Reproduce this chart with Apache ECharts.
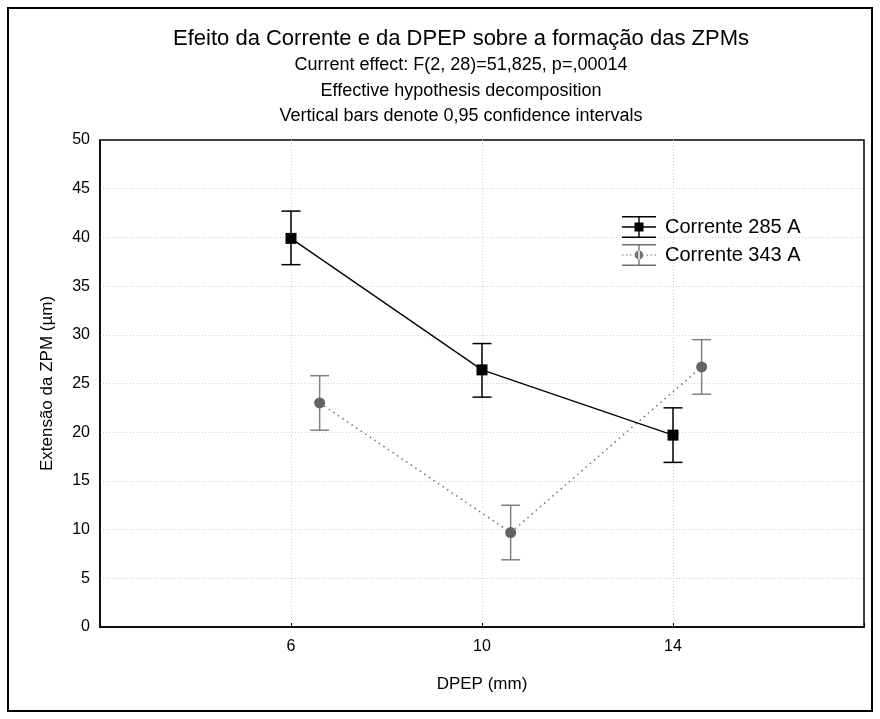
<!DOCTYPE html>
<html>
<head>
<meta charset="utf-8">
<script src="https://cdn.jsdelivr.net/npm/echarts@6/dist/echarts.min.js"></script>
<style>html,body{margin:0;padding:0;background:#fff}#c{width:880px;height:719px}</style>
</head>
<body>
<div id="c"></div>
<script>
// DPEP (mm) positions
const dpep285 = [6, 10, 14];
const dpep343 = [6.6, 10.6, 14.6];   // plotted with a small horizontal offset, as in the original
const mean285 = [39.9, 26.4, 19.7];
const low285  = [37.2, 23.6, 16.9];
const high285 = [42.7, 29.1, 22.5];
const mean343 = [23.0, 9.7, 26.7];
const low343  = [20.2, 6.9, 23.9];
const high343 = [25.8, 12.5, 29.5];
const xTickLabels = ['6', '10', '14'];
const seriesNames = ['Corrente 285 A', 'Corrente 343 A'];

const FONT = 'Liberation Sans, Arial, sans-serif';

function errData(xs, lo, hi) { return xs.map((x, i) => [x, lo[i], hi[i]]); }

function errorBar(color) {
  return function (params, api) {
    const x = api.value(0);
    const lo = api.coord([x, api.value(1)]);
    const hi = api.coord([x, api.value(2)]);
    const w = 9.5;
    const st = { stroke: color, lineWidth: 1.5 };
    return {
      type: 'group',
      children: [
        { type: 'line', shape: { x1: lo[0], y1: lo[1], x2: hi[0], y2: hi[1] }, style: st },
        { type: 'line', shape: { x1: hi[0] - w, y1: hi[1], x2: hi[0] + w, y2: hi[1] }, style: st },
        { type: 'line', shape: { x1: lo[0] - w, y1: lo[1], x2: lo[0] + w, y2: lo[1] }, style: st }
      ]
    };
  };
}

const iconBlack = 'path://M0,0H34V1.5H0Z M0,20.5H34V22H0Z M0,10.3H34V11.7H0Z M16.3,0H17.7V22H16.3Z M12.5,6.5H21.5V15.5H12.5Z';
const iconGrey = 'path://M0,0H34V1.5H0Z M0,20.5H34V22H0Z M16.3,0H17.7V22H16.3Z ' +
  'M0,10.4H1.5V11.6H0Z M4,10.4H5.5V11.6H4Z M8,10.4H9.5V11.6H8Z M24.5,10.4H26V11.6H24.5Z M28.5,10.4H30V11.6H28.5Z M32.5,10.4H34V11.6H32.5Z ' +
  'M12.6,11A4.4,4.4,0,1,0,21.4,11A4.4,4.4,0,1,0,12.6,11Z';

const chart = echarts.init(document.getElementById('c'), null, { renderer: 'canvas' });
chart.setOption({
  animation: false,
  backgroundColor: '#fff',
  textStyle: { fontFamily: FONT },
  title: [
    { text: 'Efeito da Corrente e da DPEP sobre a formação das ZPMs', left: 456, top: 23, textAlign: 'center',
      textStyle: { fontFamily: FONT, fontSize: 22, fontWeight: 'normal', color: '#000' } },
    { text: 'Current effect: F(2, 28)=51,825, p=,00014', left: 456, top: 51, textAlign: 'center',
      textStyle: { fontFamily: FONT, fontSize: 18, fontWeight: 'normal', color: '#000' } },
    { text: 'Effective hypothesis decomposition', left: 456, top: 77, textAlign: 'center',
      textStyle: { fontFamily: FONT, fontSize: 18, fontWeight: 'normal', color: '#000' } },
    { text: 'Vertical bars denote 0,95 confidence intervals', left: 456, top: 102, textAlign: 'center',
      textStyle: { fontFamily: FONT, fontSize: 18, fontWeight: 'normal', color: '#000' } }
  ],
  graphic: [
    { type: 'rect', shape: { x: 8, y: 8, width: 864, height: 703 }, style: { fill: 'none', stroke: '#000', lineWidth: 2 }, z: 100 }
  ],
  legend: {
    orient: 'vertical',
    left: 617, top: 211,
    itemWidth: 34, itemHeight: 22,
    itemGap: 6,
    textStyle: { fontFamily: FONT, fontSize: 20, color: '#000', padding: [0, 0, 0, 4] },
    data: [
      { name: seriesNames[0], icon: iconBlack, itemStyle: { color: '#000' } },
      { name: seriesNames[1], icon: iconGrey, itemStyle: { color: '#707070' } }
    ]
  },
  grid: { left: 100, right: 16, top: 140, bottom: 92, show: true, borderColor: '#000', borderWidth: 1.5, containLabel: false },
  xAxis: {
    type: 'value', min: 2, max: 18, interval: 4,
    name: 'DPEP (mm)', nameLocation: 'middle', nameGap: 49,
    nameTextStyle: { fontFamily: FONT, fontSize: 17, color: '#000' },
    axisLine: { lineStyle: { color: '#000', width: 1.5 } },
    axisTick: { inside: true, length: 4, lineStyle: { color: '#000' } },
    axisLabel: { fontFamily: FONT, fontSize: 16, color: '#000', margin: 12,
      formatter: v => (xTickLabels.indexOf(String(v)) >= 0 ? String(v) : '') },
    splitLine: { show: true, showMinLine: false, showMaxLine: false, lineStyle: { color: '#cfcfcf', type: [1, 2], width: 1 } }
  },
  yAxis: {
    type: 'value', min: 0, max: 50, interval: 5,
    name: 'Extensão da ZPM (µm)', nameLocation: 'middle', nameGap: 44, nameRotate: 90,
    nameTextStyle: { fontFamily: FONT, fontSize: 17, color: '#000' },
    axisLine: { show: true, lineStyle: { color: '#000', width: 1.5 } },
    axisTick: { show: false },
    axisLabel: { fontFamily: FONT, fontSize: 16, color: '#000', margin: 10 },
    splitLine: { show: true, showMinLine: false, showMaxLine: false, lineStyle: { color: '#cfcfcf', type: [1, 2], width: 1 } }
  },
  series: [
    { name: seriesNames[0], type: 'custom', renderItem: errorBar('#000'), data: errData(dpep285, low285, high285),
      encode: { x: 0, y: [1, 2] }, z: 3, silent: true },
    { name: seriesNames[1], type: 'custom', renderItem: errorBar('#808080'), data: errData(dpep343, low343, high343),
      encode: { x: 0, y: [1, 2] }, z: 3, silent: true },
    { name: seriesNames[0], type: 'line', data: dpep285.map((x, i) => [x, mean285[i]]),
      symbol: 'rect', symbolSize: 11, itemStyle: { color: '#000' },
      lineStyle: { color: '#000', width: 1.3 }, z: 4 },
    { name: seriesNames[1], type: 'line', data: dpep343.map((x, i) => [x, mean343[i]]),
      symbol: 'circle', symbolSize: 11, itemStyle: { color: '#636363' },
      lineStyle: { color: '#707070', width: 1.5, type: [1.5, 4] }, z: 4 }
  ]
});
</script>
</body>
</html>
